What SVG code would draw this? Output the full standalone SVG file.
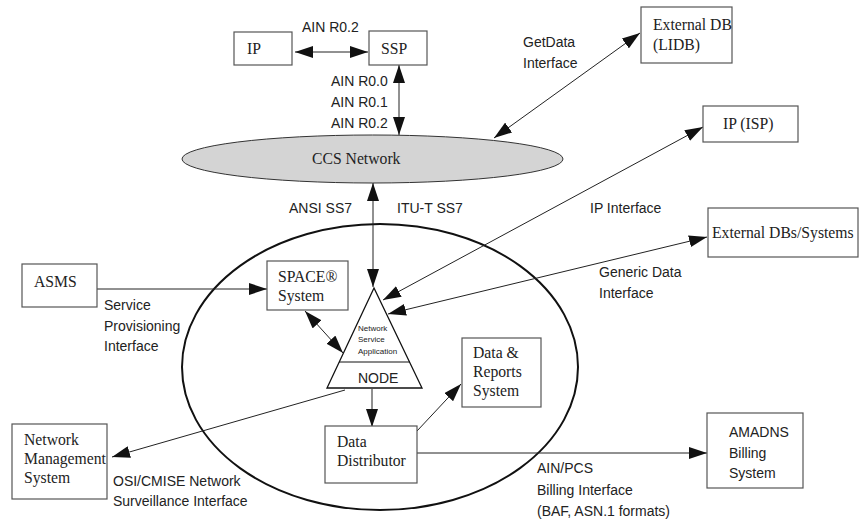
<svg xmlns="http://www.w3.org/2000/svg" width="863" height="522" viewBox="0 0 863 522">
<defs>
<marker id="ah" viewBox="0 0 18 12" markerWidth="18" markerHeight="12" refX="18" refY="6" markerUnits="userSpaceOnUse" orient="auto-start-reverse">
<path d="M0,0 L18,6 L0,12 z" fill="#111"/>
</marker>
<style>
.box{fill:#fff;stroke:#555;stroke-width:1.2}
.serif{font-family:"Liberation Serif","Times New Roman",serif;font-size:15.7px;fill:#222}
.sans{font-family:"Liberation Sans",Arial,sans-serif;font-size:14px;fill:#222}
.small{font-family:"Liberation Sans",Arial,sans-serif;font-size:8px;fill:#222}
.ln{fill:none;stroke:#222;stroke-width:1}
.both{marker-start:url(#ah);marker-end:url(#ah)}
.end{marker-end:url(#ah)}
</style>
</defs>
<rect width="863" height="522" fill="#fff"/>

<g id="boundary">
<ellipse cx="380" cy="367" rx="198" ry="143" fill="none" stroke="#111" stroke-width="2"/>
</g>

<g id="ccs">
<ellipse cx="372.5" cy="159" rx="190.5" ry="24" fill="#d4d4d4" stroke="#333" stroke-width="1"/>
<text class="serif" x="312" y="164">CCS Network</text>
</g>

<g id="connectors">
<line class="ln both" x1="295" y1="52" x2="368" y2="52"/>
<line class="ln both" x1="399" y1="65" x2="399" y2="135"/>
<line class="ln both" x1="640" y1="33" x2="494" y2="138"/>
<line class="ln both" x1="373" y1="183" x2="373" y2="287"/>
<line class="ln both" x1="703" y1="127" x2="383" y2="300"/>
<line class="ln both" x1="707" y1="237" x2="388" y2="314"/>
<line class="ln end" x1="97" y1="289" x2="267" y2="289"/>
<line class="ln both" x1="305" y1="311" x2="343" y2="353"/>
<line class="ln end" x1="372" y1="389" x2="372" y2="427"/>
<line class="ln end" x1="345" y1="390" x2="112" y2="457"/>
<line class="ln end" x1="417" y1="431" x2="461" y2="384"/>
<line class="ln end" x1="417" y1="453" x2="707" y2="453"/>
</g>

<g id="labels">
<text class="sans" x="302" y="32">AIN R0.2</text>
<text class="sans" x="331" y="86">AIN R0.0</text>
<text class="sans" x="331" y="107">AIN R0.1</text>
<text class="sans" x="331" y="128">AIN R0.2</text>
<text class="sans" x="523" y="47">GetData</text>
<text class="sans" x="523" y="68">Interface</text>
<text class="sans" x="289" y="213">ANSI SS7</text>
<text class="sans" x="397" y="213">ITU-T SS7</text>
<text class="sans" x="590" y="213">IP Interface</text>
<text class="sans" x="599" y="277">Generic Data</text>
<text class="sans" x="599" y="298">Interface</text>
<text class="sans" x="104" y="310">Service</text>
<text class="sans" x="104" y="331">Provisioning</text>
<text class="sans" x="104" y="351">Interface</text>
<text class="sans" x="113" y="486">OSI/CMISE Network</text>
<text class="sans" x="113" y="506">Surveillance Interface</text>
<text class="sans" x="537" y="473">AIN/PCS</text>
<text class="sans" x="537" y="495">Billing Interface</text>
<text class="sans" x="537" y="516">(BAF, ASN.1 formats)</text>
</g>

<g id="ip">
<rect class="box" x="234" y="32" width="58" height="33"/>
<text class="serif" x="247" y="54">IP</text>
</g>
<g id="ssp">
<rect class="box" x="369" y="31" width="58" height="34"/>
<text class="serif" x="381" y="54">SSP</text>
</g>
<g id="extdb">
<rect class="box" x="641" y="7" width="91" height="56"/>
<text class="serif" x="653" y="30">External DB</text>
<text class="serif" x="653" y="50">(LIDB)</text>
</g>
<g id="ipisp">
<rect class="box" x="703" y="106" width="95" height="36"/>
<text class="serif" x="723" y="129">IP (ISP)</text>
</g>
<g id="extdbs">
<rect class="box" x="708" y="208" width="150" height="49"/>
<text class="serif" x="712" y="238">External DBs/Systems</text>
</g>
<g id="asms">
<rect class="box" x="22" y="264" width="75" height="43"/>
<text class="serif" x="34" y="287">ASMS</text>
</g>
<g id="space">
<rect class="box" x="267" y="261" width="81" height="49"/>
<text class="serif" x="278" y="282">SPACE®</text>
<text class="serif" x="278" y="301">System</text>
</g>
<g id="node">
<polygon points="374,288 327,388 422,388" fill="#fff" stroke="#111" stroke-width="1.3"/>
<line x1="339" y1="362" x2="410" y2="362" stroke="#111" stroke-width="1"/>
<text class="small" x="358" y="331">Network</text>
<text class="small" x="358" y="342">Service</text>
<text class="small" x="358" y="354">Application</text>
<text class="sans" x="358" y="383">NODE</text>
</g>
<g id="datareports">
<rect class="box" x="462" y="338" width="79" height="69"/>
<text class="serif" x="473" y="358">Data &amp;</text>
<text class="serif" x="473" y="377">Reports</text>
<text class="serif" x="473" y="396">System</text>
</g>
<g id="datadist">
<rect class="box" x="325" y="426" width="92" height="57"/>
<text class="serif" x="337" y="447">Data</text>
<text class="serif" x="337" y="466">Distributor</text>
</g>
<g id="nms">
<rect class="box" x="12" y="424" width="95" height="75"/>
<text class="serif" x="24" y="445">Network</text>
<text class="serif" x="24" y="464">Management</text>
<text class="serif" x="24" y="483">System</text>
</g>
<g id="amadns">
<rect class="box" x="707" y="413" width="96" height="75"/>
<text class="sans" x="729" y="437">AMADNS</text>
<text class="sans" x="729" y="458">Billing</text>
<text class="sans" x="729" y="478">System</text>
</g>
</svg>
